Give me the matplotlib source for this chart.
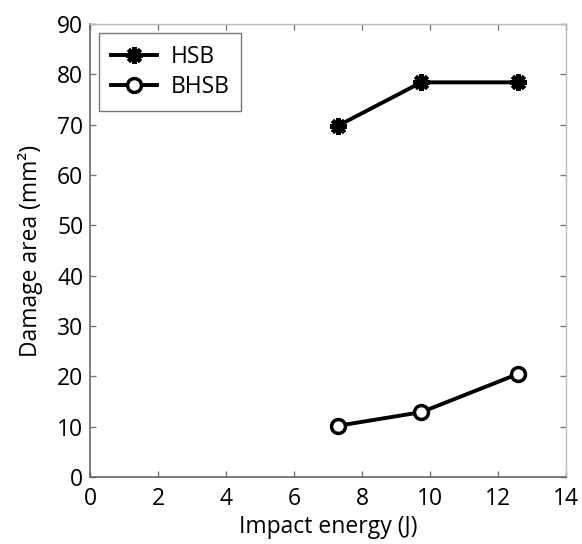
import matplotlib
matplotlib.use('Agg')
import matplotlib.pyplot as plt

# data
energy = [7.3, 9.75, 12.6]
hsb = [69.8, 78.4, 78.4]
bhsb = [10.2, 12.9, 20.5]
xticks = [0, 2, 4, 6, 8, 10, 12, 14]
yticks = [0, 10, 20, 30, 40, 50, 60, 70, 80, 90]

plt.rcParams['font.family'] = ['Open Sans', 'DejaVu Sans']

fig = plt.figure(figsize=(5.82, 5.44), dpi=100)
ax = fig.add_axes([0.155, 0.123, 0.817, 0.833])

ax.plot(energy, hsb, color='black', lw=2.8, marker=(8, 2, 0), ms=12,
        mew=3, label='HSB')
ax.plot(energy, bhsb, color='black', lw=2.8, marker='o', ms=10, mew=2.5,
        mfc='white', label='BHSB')

ax.set_xlim(0, 14)
ax.set_ylim(0, 90)
ax.set_xticks(xticks)
ax.set_yticks(yticks)
ax.tick_params(direction='in', length=4, width=1, color='#777777',
               labelsize=16.5, top=True, right=True, pad=5)
ax.tick_params(axis='x', pad=7)
for s in ['left', 'bottom']:
    ax.spines[s].set_color('#666666')
    ax.spines[s].set_linewidth(1.2)
for s in ['top', 'right']:
    ax.spines[s].set_color('#bbbbbb')
    ax.spines[s].set_linewidth(1.0)

ax.set_xlabel('Impact energy (J)', fontsize=16.5, labelpad=3)
ax.set_ylabel('Damage area (mm²)', fontsize=16.5, labelpad=10)

leg = ax.legend(loc='upper left', fontsize=16.5, frameon=True, fancybox=False,
                edgecolor='#555555', handlelength=2.0, borderaxespad=0.4,
                labelspacing=0.3, handletextpad=0.6, borderpad=0.5)
leg.get_frame().set_linewidth(1.0)

fig.savefig('out.png', dpi=100)
